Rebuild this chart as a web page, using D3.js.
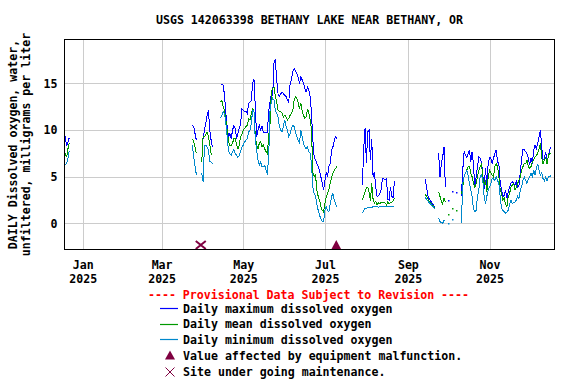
<!DOCTYPE html>
<html>
<head>
<meta charset="utf-8">
<script src="https://cdn.jsdelivr.net/npm/d3@7"></script>
<style>
body{margin:0;background:#fff;}
svg text{font-family:"DejaVu Sans Mono",monospace;font-weight:bold;font-size:11.6px;fill:#000;}
</style>
</head>
<body>
<script>
// Daily values: one entry per day from segStarts[i]; gaps between segments are missing data
var segStarts = ["2024-12-19","2025-03-24","2025-03-31","2025-04-14","2025-07-29","2025-09-14","2025-09-24","2025-10-02","2025-10-05","2025-10-08","2025-10-11"];

var dailyMax = [
  [9.4,8.3,8.7,9.2],
  [10.5,10.4,9.6,8.9],
  [9.0,9.1,10.0,10.7,11.6,12.1,10.0,8.9,8.2],
  [14.9,14.9,14.8,13.75,11.8,10.4,9.3,9.6,9.1,10.0, 10.5,10.2,9.1,9.6,10.2,10.7,12.3,12.1,12.0,12.0,
   11.8,12.9,13.0,13.2,15.0,15.5,12.5,9.3,10.0,10.5, 10.0,10.4,9.8,9.8,9.8,9.8,12.0,13.0,13.9,13.75,
   17.3,17.5,15.4,13.9,13.6,13.9,14.1,13.9,13.75,13.6, 13.2,13.0,15.0,15.4,16.25,16.6,16.4,16.1,15.7,15.0,
   15.7,15.4,15.0,14.5,14.1,14.6,14.3,13.6,11.8,8.9, 7.1,6.8,6.4,6.1,5.7,5.0,4.3,3.6,4.6,5.4,
   5.0,6.1,6.4,7.9,8.2,8.9,9.3,9.1],
  [4.1,8.0,10.2,6.5,9.8,10.0,6.8,9.0,5.0,5.5, 3.9,2.9,3.0,3.2,3.6,4.8,4.8,4.7,4.8,2.6, 2.5,3.9,2.9,2.8,4.6],
  [4.8,3.8,3.0,2.6,2.4,2.2,2.0,1.8],
  [7.5,5.0,6.4,7.1,8.2,3.9],
  [2.4],
  [3.4],
  [3.3],
  [2.9,5.7,7.7,7.3,7.1,7.5,7.9,6.6,7.7,6.4, 3.9,5.0,6.1,7.1,7.0,6.6,5.2,3.75,5.9,4.1,
   6.4,7.1,7.0,6.4,7.0,7.5,7.9,6.6,6.4,4.3, 3.6,2.9,3.0,3.6,2.7,3.4,3.9,4.3,4.5,4.3,
   4.1,4.5,3.9,4.1,5.4,7.0,7.9,7.9,7.7,7.5, 7.0,6.25,7.0,6.4,7.9,8.4,8.0,8.6,9.3,10.0,
   8.2,6.8,7.0,7.7,6.4,7.3,7.9,8.2]
];

var dailyMean = [
  [7.5,7.1,8.0,8.6],
  [9.1,8.75,8.2,7.5],
  [6.6,9.3,9.3,9.5,9.8,9.3,8.4,7.5,7.3],
  [13.0,13.2,12.5,12.1,11.1,10.0,8.75,8.4,8.4,8.6, 9.1,9.1,8.4,8.0,8.4,9.3,9.6,10.0,10.2,10.4,
   10.5,11.25,11.1,11.8,12.3,12.1,9.3,8.4,8.0,8.6, 8.75,8.2,8.4,8.0,7.7,7.5,9.3,10.7,14.1,14.5,
   14.6,13.6,13.0,12.1,12.0,12.0,11.8,11.4,11.6,11.4, 11.1,11.25,11.6,11.8,12.1,13.2,13.6,13.4,13.0,12.3,
   12.9,12.1,11.6,11.25,11.4,12.3,11.8,11.1,10.0,5.4, 5.0,5.2,3.6,2.9,2.5,1.8,1.4,1.25,2.1,2.9,
   3.2,3.6,4.3,5.0,5.4,5.7,5.9,6.1],
  [2.5,3.0,3.4,3.8,3.9,3.4,2.4,4.3,2.6,2.2, 2.4,2.0,2.2,2.1,2.3,2.3,2.2,2.2,2.0,2.3, 2.1,2.3,2.3,2.4,2.7],
  [3.1,2.9,2.6,2.4,2.2,2.0,1.9,1.7],
  [3.4,2.9,2.4,2.1,2.7,2.3],
  [0.9],
  [1.6],
  [1.3],
  [3.2,3.9,5.0,5.4,5.7,6.1,6.1,5.4,5.0,4.3, 3.9,4.3,5.0,5.7,6.1,6.4,5.0,4.1,4.6,3.4,
   5.0,5.7,5.4,5.2,5.0,6.1,6.4,6.1,5.0,3.6, 3.2,2.5,2.7,2.1,1.8,2.9,3.2,3.9,4.1,4.3,
   3.6,3.9,4.3,4.6,5.0,5.7,6.1,6.4,6.4,6.8, 6.1,5.9,6.1,6.6,6.8,7.1,7.3,7.5,8.0,8.6,
   7.1,6.4,6.8,7.1,6.4,7.3,7.5,7.5]
];

var dailyMin = [
  [6.3,6.4,7.0,7.8],
  [8.4,7.1,6.1,5.2],
  [5.4,4.5,8.4,8.4,8.2,7.9,6.6,6.6,6.4],
  [11.25,11.6,12.0,11.8,10.7,9.3,7.7,7.5,7.3,7.7, 7.9,7.5,7.3,7.1,7.3,7.7,8.2,8.4,8.75,8.9,
   9.1,9.8,10.0,10.7,12.1,12.1,8.9,7.9,6.8,6.25, 6.6,6.1,6.1,6.25,5.7,5.4,7.1,12.1,13.0,13.4,
   13.2,12.1,11.8,11.4,10.4,10.0,9.8,10.4,11.1,10.4, 10.0,9.3,9.6,10.2,10.5,10.4,9.8,9.3,8.9,8.6,
   10.0,9.3,8.6,8.2,8.0,8.2,7.7,7.5,6.4,3.9, 3.2,2.9,2.1,1.4,0.9,0.5,0.2,0.2,1.4,1.8,
   1.4,1.25,2.1,2.9,3.2,2.5,2.1,1.8],
  [1.1,1.4,1.6,1.6,1.7,1.7,1.7,1.7,1.8,1.8, 1.8,1.8,1.75,1.8,1.8,1.85,1.8,1.8,1.8,1.8, 1.8,1.8,1.8,1.8,1.8],
  [2.8,2.6,2.4,2.2,2.1,1.9,1.8,1.6],
  [0.6,0.2,0.1,0.0,0.4,0.2],
  [-0.1],
  [0.4],
  [null],
  [0.0,4.3,5.0,5.4,5.7,5.2,4.3,3.6,2.9,1.6, 1.25,1.4,2.9,3.6,5.0,5.2,4.6,2.9,2.1,2.9,
   3.6,3.9,4.3,4.8,4.8,4.6,5.0,4.6,4.3,2.9, 1.6,1.4,1.25,1.1,1.25,1.4,2.1,2.5,2.1,2.3,
   2.3,2.5,2.9,2.7,3.6,3.9,4.6,5.0,4.6,4.3, 4.8,5.0,5.4,5.0,5.7,5.2,5.9,6.4,5.7,5.2,
   5.4,4.8,4.6,5.0,4.6,5.0,5.0,5.2]
];

var yTicks = [0, 5, 10, 15];
var monthTicks = ["2025-01-01","2025-03-01","2025-05-01","2025-07-01","2025-09-01","2025-11-01"];
var maintenanceDates = ["2025-03-30 06:00"];
var malfunctionDates = ["2025-07-09 12:00"];

var titleText = "USGS 142063398 BETHANY LAKE NEAR BETHANY, OR";
var yLabelLines = ["DAILY Dissolved oxygen, water,", "unfiltered, milligrams per liter"];
var seriesNames = ["Daily maximum dissolved oxygen", "Daily mean dissolved oxygen", "Daily minimum dissolved oxygen"];

// ---- layout / style
var W = 576, H = 384;
var plot = {left: 64.5, right: 554.5, top: 39.5, bottom: 249.5};
var colors = ["#0000ff", "#009900", "#0088cc"];
var markColor = "#7f0040";

var parseDay = d3.timeParse("%Y-%m-%d");
var parseTime = d3.timeParse("%Y-%m-%d %H:%M");

var svg = d3.select("body").append("svg")
    .attr("width", W).attr("height", H);

var x = d3.scaleTime()
    .domain([parseTime("2024-12-18 10:30"), parseTime("2025-12-19 13:30")])
    .range([plot.left, plot.right]);
var y = d3.scaleLinear()
    .domain([-2.786, 19.714])
    .range([plot.bottom, plot.top]);

// title
svg.append("text")
    .attr("x", (plot.left + plot.right) / 2).attr("y", 24)
    .attr("text-anchor", "middle")
    .text(titleText);

// y axis + horizontal grid
var gy = svg.append("g")
    .attr("transform", "translate(" + plot.left + ",0)")
    .call(d3.axisLeft(y).tickValues(yTicks).tickSize(-(plot.right - plot.left)).tickPadding(7));
gy.select(".domain").remove();
gy.selectAll(".tick line").attr("stroke", "#cccccc").attr("shape-rendering", "crispEdges");

// x axis + vertical grid
var fmtMonth = d3.timeFormat("%b"), fmtYear = d3.timeFormat("%Y");
var gx = svg.append("g")
    .attr("transform", "translate(0," + plot.bottom + ")")
    .call(d3.axisBottom(x).tickValues(monthTicks.map(parseDay)).tickSize(-(plot.bottom - plot.top)));
gx.select(".domain").remove();
gx.selectAll(".tick line").attr("stroke", "#cccccc").attr("shape-rendering", "crispEdges");
gx.selectAll(".tick text").each(function(d) {
  var t = d3.select(this).text(null).attr("y", null).attr("dy", null);
  t.append("tspan").attr("x", 0).attr("y", 19).text(fmtMonth(d));
  t.append("tspan").attr("x", 0).attr("y", 33.5).text(fmtYear(d));
});

// y label
var yl = svg.append("g")
    .attr("transform", "translate(0," + ((plot.top + plot.bottom) / 2) + ") rotate(-90)");
yLabelLines.forEach(function(s, i) {
  yl.append("text").attr("x", 0).attr("y", 16.5 + i * 13)
    .attr("text-anchor", "middle").text(s);
});

// clip
svg.append("clipPath").attr("id", "clip")
  .append("rect")
    .attr("x", plot.left).attr("y", plot.top)
    .attr("width", plot.right - plot.left).attr("height", plot.bottom - plot.top);

var dataG = svg.append("g").attr("clip-path", "url(#clip)");

var line = d3.line()
    .defined(function(d) { return d.v != null; })
    .x(function(d) { return x(d.date); })
    .y(function(d) { return y(d.v); });

[dailyMax, dailyMean, dailyMin].forEach(function(series, si) {
  series.forEach(function(vals, k) {
    var start = parseDay(segStarts[k]);
    var pts = vals.map(function(v, j) { return {date: d3.timeDay.offset(start, j), v: v}; });
    var valid = pts.filter(function(p) { return p.v != null; });
    if (valid.length > 1) {
      dataG.append("path")
          .datum(pts)
          .attr("fill", "none")
          .attr("stroke", colors[si])
          .attr("stroke-width", 1)
          .attr("shape-rendering", "crispEdges")
          .attr("d", line);
    } else {
      dataG.selectAll(null).data(valid).enter().append("rect")
          .attr("x", function(d) { return Math.round(x(d.date)) - 1; })
          .attr("y", function(d) { return Math.round(y(d.v)) - 1; })
          .attr("width", 1.5).attr("height", 1.5)
          .attr("fill", colors[si]);
    }
  });
});

// maintenance (x) and malfunction (triangle) markers along the bottom
maintenanceDates.forEach(function(s) {
  var cx = x(parseTime(s)), by = plot.bottom - 0.5;
  svg.append("path")
      .attr("d", "M" + (cx - 5) + "," + (by - 8) + "L" + (cx + 5) + "," + by +
                 "M" + (cx + 5) + "," + (by - 8) + "L" + (cx - 5) + "," + by)
      .attr("stroke", markColor).attr("stroke-width", 2).attr("fill", "none");
});
malfunctionDates.forEach(function(s) {
  var cx = x(parseTime(s)), by = plot.bottom;
  svg.append("path")
      .attr("d", "M" + (cx - 5) + "," + by + "L" + (cx + 5) + "," + by + "L" + cx + "," + (by - 9.5) + "Z")
      .attr("fill", markColor);
});

// frame
svg.append("rect")
    .attr("x", plot.left).attr("y", plot.top)
    .attr("width", plot.right - plot.left).attr("height", plot.bottom - plot.top)
    .attr("fill", "none").attr("stroke", "#000").attr("shape-rendering", "crispEdges");

// legend
svg.append("text")
    .attr("x", 308.5).attr("y", 298.5)
    .attr("text-anchor", "middle")
    .style("fill", "#ff0000")
    .text("---- Provisional Data Subject to Revision ----");

var legY = [312.5, 328, 343.5, 359.5, 375.5];
seriesNames.forEach(function(name, i) {
  var ly = Math.floor(legY[i] - 4) + 0.5;
  svg.append("line")
      .attr("x1", 160).attr("x2", 178)
      .attr("y1", ly).attr("y2", ly)
      .attr("stroke", colors[i]).attr("stroke-width", 1.2);
  svg.append("text").attr("x", 183).attr("y", legY[i]).text(name);
});
svg.append("path")
    .attr("d", "M165," + legY[3] + "L175," + legY[3] + "L170," + (legY[3] - 9) + "Z")
    .attr("fill", markColor);
svg.append("text").attr("x", 183).attr("y", legY[3]).text("Value affected by equipment malfunction.");
svg.append("path")
    .attr("d", "M165.5," + (legY[4] - 8) + "L174.5," + (legY[4] + 1) + "M174.5," + (legY[4] - 8) + "L165.5," + (legY[4] + 1))
    .attr("stroke", markColor).attr("stroke-width", 1).attr("fill", "none");
svg.append("text").attr("x", 183).attr("y", legY[4]).text("Site under going maintenance.");
</script>
</body>
</html>
